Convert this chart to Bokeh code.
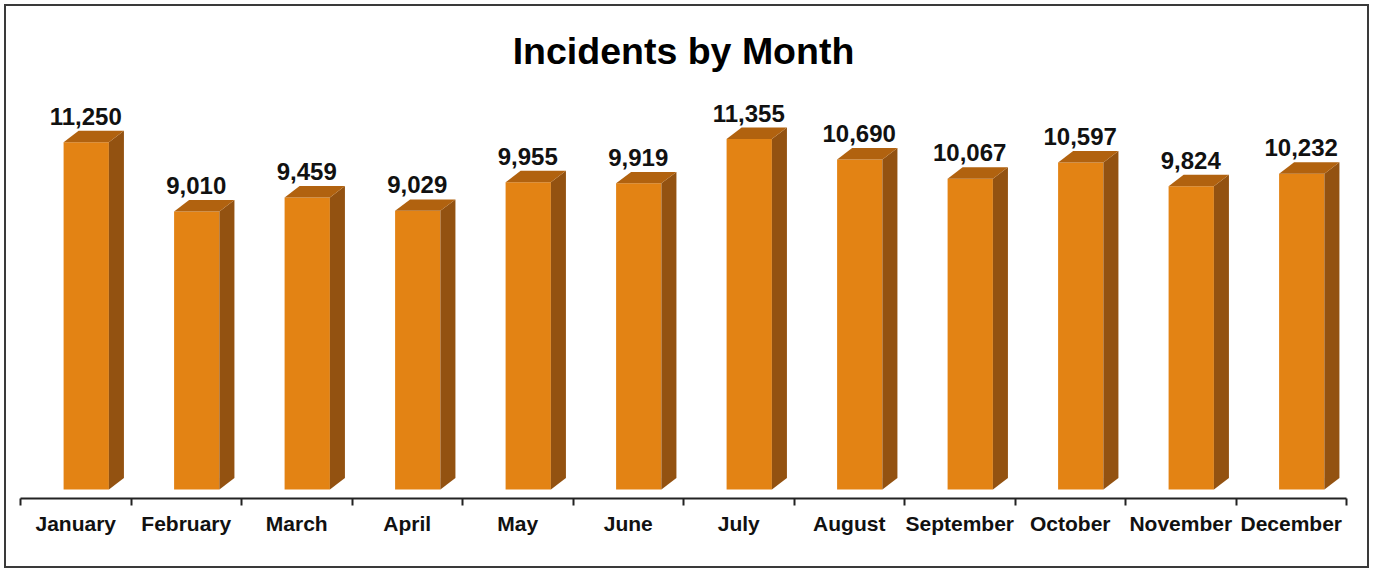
from bokeh.plotting import figure
from bokeh.layouts import column
from bokeh.models import ColumnDataSource, Range1d, FixedTicker
from bokeh.core.properties import value
from bokeh.embed import file_html
from bokeh.resources import INLINE

months = ["January", "February", "March", "April", "May", "June", "July",
          "August", "September", "October", "November", "December"]
incidents = [11250, 9010, 9459, 9029, 9955, 9919, 11355, 10690, 10067, 10597, 9824, 10232]

FONT = "Liberation Sans"
FRONT = "#E38314"
SIDE = "#935211"
TOP = "#B1620F"

# geometry of the pseudo-3D bars (in data units)
front_left = 0.39
front_w = 0.41
depth_x = 0.136
depth_y = 371

idx = list(range(len(months)))
fl = [i + front_left for i in idx]
fr = [i + front_left + front_w for i in idx]
fc = [i + front_left + front_w / 2 for i in idx]

side_xs = [[r, r + depth_x, r + depth_x, r] for r in fr]
side_ys = [[0, depth_y, v + depth_y, v] for v in incidents]
top_xs = [[l, r, r + depth_x, l + depth_x] for l, r in zip(fl, fr)]
top_ys = [[v, v, v + depth_y, v + depth_y] for v in incidents]

src = ColumnDataSource(dict(x=fc, top=incidents, lx=[i + 0.59 for i in idx],
                            label=[f"{v:,}" for v in incidents]))

p = figure(width=1361, height=560, output_backend="svg", toolbar_location=None,
           x_range=Range1d(0, 12), y_range=Range1d(-290, 12863),
           y_axis_location=None, min_border_left=14, min_border_right=21,
           min_border_top=84, min_border_bottom=68,
           title="Incidents by Month")
p.outline_line_color = None
p.xgrid.visible = False
p.ygrid.visible = False
p.background_fill_color = "white"
p.border_fill_color = "white"

p.title.align = "center"
p.title.text_font = FONT
p.title.text_font_size = "37.5px"
p.title.text_font_style = "bold"
p.title.text_color = "#000000"
p.title.standoff = 42

p.vbar(x="x", top="top", bottom=0, width=front_w, source=src,
       fill_color=FRONT, line_color=None)
p.patches(side_xs, side_ys, fill_color=SIDE, line_color=None)
p.patches(top_xs, top_ys, fill_color=TOP, line_color=None)

p.text(x="lx", y="top", text="label", source=src, text_align="center",
       text_baseline="alphabetic", y_offset=-26, text_font=value(FONT),
       text_font_size="24px", text_font_style="bold", text_color="#111111")

ax = p.xaxis[0]
ax.ticker = FixedTicker(ticks=[i + 0.5 for i in idx], minor_ticks=list(range(13)))
ax.major_label_overrides = {i + 0.5: m for i, m in zip(idx, months)}
ax.major_tick_out = 0
ax.major_tick_in = 0
ax.minor_tick_out = 7
ax.minor_tick_in = 0
ax.minor_tick_line_color = "#222222"
ax.minor_tick_line_width = 2
ax.axis_line_color = "#222222"
ax.axis_line_width = 2
ax.major_label_text_font = FONT
ax.major_label_text_font_size = "21px"
ax.major_label_text_font_style = "bold"
ax.major_label_text_color = "#111111"
ax.major_label_standoff = 6

layout = column(p, styles={"border": "2px solid #3a3a3a", "margin": "4px"})

open("out.html", "w").write(file_html(layout, INLINE))
